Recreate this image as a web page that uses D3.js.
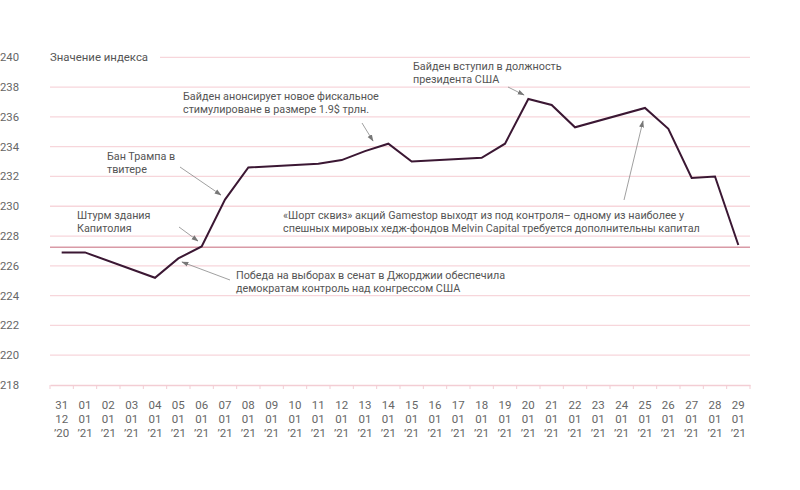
<!DOCTYPE html>
<html><head><meta charset="utf-8">
<script src="https://cdn.jsdelivr.net/npm/d3@7"></script>
<style>
body{margin:0;background:#fff;}
text{font-family:Roboto,"Noto Sans",sans-serif;}
</style></head>
<body><svg id="chart" width="800" height="490"></svg>
<script>
const days   = ["31","01","02","03","04","05","06","07","08","09","10","11","12","13","14","15","16","17","18","19","20","21","22","23","24","25","26","27","28","29"];
const months = ["12","01","01","01","01","01","01","01","01","01","01","01","01","01","01","01","01","01","01","01","01","01","01","01","01","01","01","01","01","01"];
const years  = ["’20","’21","’21","’21","’21","’21","’21","’21","’21","’21","’21","’21","’21","’21","’21","’21","’21","’21","’21","’21","’21","’21","’21","’21","’21","’21","’21","’21","’21","’21"];
const values = [226.9,226.9,null,null,225.2,226.5,227.3,230.45,232.6,null,null,232.85,233.1,233.7,234.2,233.0,null,null,233.25,234.2,237.2,236.8,235.3,null,null,236.6,235.2,231.9,232.0,227.4];
const yTicks = [218,220,222,224,226,228,230,232,234,236,238,240];
const refValue = 227.25;
const yTitle = "Значение индекса";

const annotations = [
  {lines:["Штурм здания","Капитолия"], tx:77, ty:215, from:[179,227], to:[198,241]},
  {lines:["Бан Трампа в","твитере"], tx:107, ty:156, from:[180,167], to:[221,195]},
  {lines:["Победа на выборах в сенат в Джорджии обеспечила","демократам контроль над конгрессом США"], tx:236, ty:275, from:[230,280], to:[182,262]},
  {lines:["Байден анонсирует новое фискальное","стимулироване в размере 1.9$ трлн."], tx:183, ty:96, from:[362,123], to:[373,141]},
  {lines:["Байден вступил в должность","президента США"], tx:413, ty:66, from:[508,87], to:[524,95]},
  {lines:["«Шорт сквиз» акций Gamestop выходт из под контроля– одному из наиболее у","спешных мировых хедж-фондов Melvin Capital требуется дополнительны капитал"], tx:283, ty:215, from:[624,200], to:[643,121]}
];

const svg = d3.select("#chart");
const mLeft = 50, mRight = 750, mTop = 57.3, mBottom = 385;

const x = d3.scaleBand().domain(d3.range(days.length)).range([mLeft, mRight]);
const y = d3.scaleLinear().domain([218, 240]).range([mBottom, mTop]);

svg.append("defs").append("marker")
  .attr("id","arr").attr("viewBox","0 0 10 10").attr("refX",9).attr("refY",5)
  .attr("markerWidth",7).attr("markerHeight",7).attr("orient","auto")
  .attr("markerUnits","userSpaceOnUse")
  .append("path").attr("d","M0,1.5L10,5L0,8.5Z").attr("fill","#777");

const grid = svg.append("g");
yTicks.forEach(t => {
  if (t === 218) return;
  grid.append("line")
    .attr("x1", t === 240 ? 160 : mLeft).attr("x2", mRight)
    .attr("y1", y(t)).attr("y2", y(t))
    .attr("stroke", "#f7d6db").attr("stroke-width", 1.3);
});

svg.append("g").selectAll("text").data(yTicks).join("text")
  .attr("x", 0).attr("y", d => y(d)).attr("dy","0.35em")
  .attr("font-size", 11.3).attr("fill","#666").text(d => d);

svg.append("text").attr("x", mLeft).attr("y", y(240)).attr("dy","0.35em")
  .attr("font-size", 11.4).attr("fill","#555").text(yTitle);

const xAxis = d3.axisBottom(x).tickSize(4).tickSizeOuter(0).tickFormat("");
const gx = svg.append("g").attr("transform", `translate(0,${mBottom})`).call(xAxis);
gx.select(".domain").attr("stroke","#f3cdd4").attr("stroke-width",1.3);
gx.selectAll(".tick line").attr("stroke","#f3cdd4").attr("transform", `translate(${-x.bandwidth()/2},0)`);
gx.append("line").attr("x1", mRight).attr("x2", mRight).attr("y1",0).attr("y2",4).attr("stroke","#f3cdd4");
gx.selectAll(".tick text").remove();

const xl = svg.append("g");
days.forEach((d, i) => {
  const cx = x(i) + x.bandwidth()/2;
  const t = xl.append("text").attr("x", cx).attr("text-anchor","middle")
    .attr("font-size", 11.5).attr("fill","#666");
  [d, months[i], years[i]].forEach((s, k) => {
    t.append("tspan").attr("x", cx).attr("y", 409 + k*14.2).text(s);
  });
});

svg.append("line").attr("x1", mLeft).attr("x2", mRight)
  .attr("y1", y(refValue)).attr("y2", y(refValue))
  .attr("stroke","#d99aa6").attr("stroke-width",1.5);

const pts = values.map((v,i)=>({i,v})).filter(d => d.v !== null);
svg.append("path").datum(pts)
  .attr("fill","none").attr("stroke","#3b1733").attr("stroke-width",2)
  .attr("d", d3.line().x(d => x(d.i) + x.bandwidth()/2).y(d => y(d.v)));

const ag = svg.append("g");
annotations.forEach(a => {
  a.lines.forEach((s,k) => {
    ag.append("text").attr("x", a.tx).attr("y", a.ty + k*13.5).attr("dy","0.35em")
      .attr("font-size", 10.8).attr("fill","#555").text(s);
  });
  ag.append("line").attr("x1",a.from[0]).attr("y1",a.from[1])
    .attr("x2",a.to[0]).attr("y2",a.to[1])
    .attr("stroke","#888").attr("stroke-width",0.8).attr("marker-end","url(#arr)");
});
</script></body></html>
